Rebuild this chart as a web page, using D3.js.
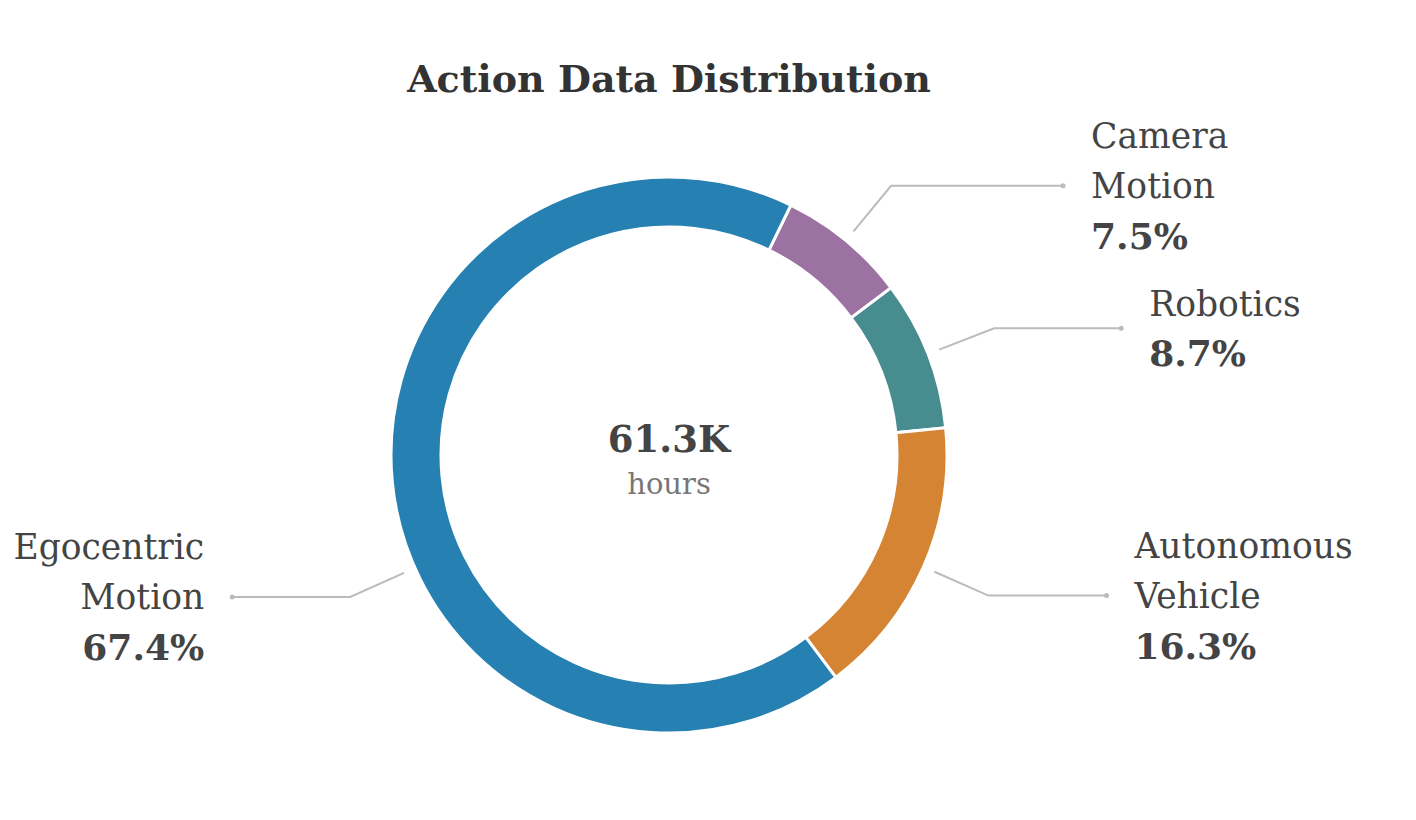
<!DOCTYPE html>
<html>
<head>
<meta charset="utf-8">
<script src="https://cdn.jsdelivr.net/npm/d3@7"></script>
<style>
  html, body { margin: 0; padding: 0; background: #fff; }
  svg { display: block; font-family: "DejaVu Serif", serif; }
</style>
</head>
<body>
<svg id="chart" width="1416" height="820"></svg>
<script>
// data (share of total hours, %)
const categories = ["Camera Motion", "Robotics", "Autonomous Vehicle", "Egocentric Motion"];
const labelLines = [["Camera", "Motion"], ["Robotics"], ["Autonomous", "Vehicle"], ["Egocentric", "Motion"]];
const shares = [7.5, 8.7, 16.3, 67.4];
const colors = ["#9b72a2", "#478c8e", "#d58433", "#2680b1"];
const totalLabel = "61.3K";
const unitLabel = "hours";

// label placement (angle override in degrees, horizontal leader length)
const labelAngle = [null, null, null, 246];
const leaderLen = [172, 127, 118, 118];

const width = 1416, height = 820;
const cx = 669, cy = 455;
const outerR = 278, innerR = 228;

const svg = d3.select("#chart");

svg.append("text")
  .attr("x", cx).attr("y", 92)
  .attr("text-anchor", "middle")
  .attr("fill", "#333")
  .attr("style", "font-size: 38px; font-weight: bold;")
  .text("Action Data Distribution");

const pie = d3.pie()
  .sort(null)
  .startAngle(26 * Math.PI / 180)
  .endAngle(26 * Math.PI / 180 + 2 * Math.PI);

const arcs = pie(shares);
const arc = d3.arc().innerRadius(innerR).outerRadius(outerR);

const g = svg.append("g").attr("transform", `translate(${cx},${cy})`);

g.selectAll("path")
  .data(arcs)
  .join("path")
  .attr("d", arc)
  .attr("fill", (d, i) => colors[i])
  .attr("stroke", "#fff")
  .attr("stroke-width", 3);

// center text
g.append("text")
  .attr("y", -3)
  .attr("text-anchor", "middle")
  .attr("fill", "#444")
  .attr("style", "font-size: 37px; font-weight: bold;")
  .text(totalLabel);

g.append("text")
  .attr("y", 39)
  .attr("text-anchor", "middle")
  .attr("fill", "#777")
  .attr("style", "font-size: 29px;")
  .text(unitLabel);

// leader lines + labels
const polar = (a, r) => [Math.sin(a) * r, -Math.cos(a) * r];

arcs.forEach((d, i) => {
  const a = labelAngle[i] != null ? labelAngle[i] * Math.PI / 180 : (d.startAngle + d.endAngle) / 2;
  const p0 = polar(a, 290);
  const p1 = polar(a, 349);
  const right = Math.sin(a) > 0;
  const p2 = [p1[0] + (right ? leaderLen[i] : -leaderLen[i]), p1[1]];

  g.append("polyline")
    .attr("points", [p0, p1, p2].map(p => p.join(",")).join(" "))
    .attr("fill", "none")
    .attr("stroke", "#bbb")
    .attr("stroke-width", 2);

  g.append("circle")
    .attr("cx", p2[0]).attr("cy", p2[1])
    .attr("r", 2.5)
    .attr("fill", "#bbb");

  const lines = labelLines[i].concat([shares[i].toFixed(1) + "%"]);
  const lh = 50;
  const top = p2[1] - (lines.length - 1) * lh / 2;
  const t = g.append("text")
    .attr("text-anchor", right ? "start" : "end")
    .attr("fill", "#444")
    .attr("style", "font-size: 34.5px;");
  lines.forEach((ln, j) => {
    const last = j === lines.length - 1;
    t.append("tspan")
      .attr("x", p2[0] + (right ? 28 : -28))
      .attr("y", top + j * lh)
      .attr("dy", "0.36em")
      .attr("font-weight", last ? "bold" : null)
      .attr("font-size", last ? 36 : null)
      .text(ln);
  });
});
</script>
</body>
</html>
